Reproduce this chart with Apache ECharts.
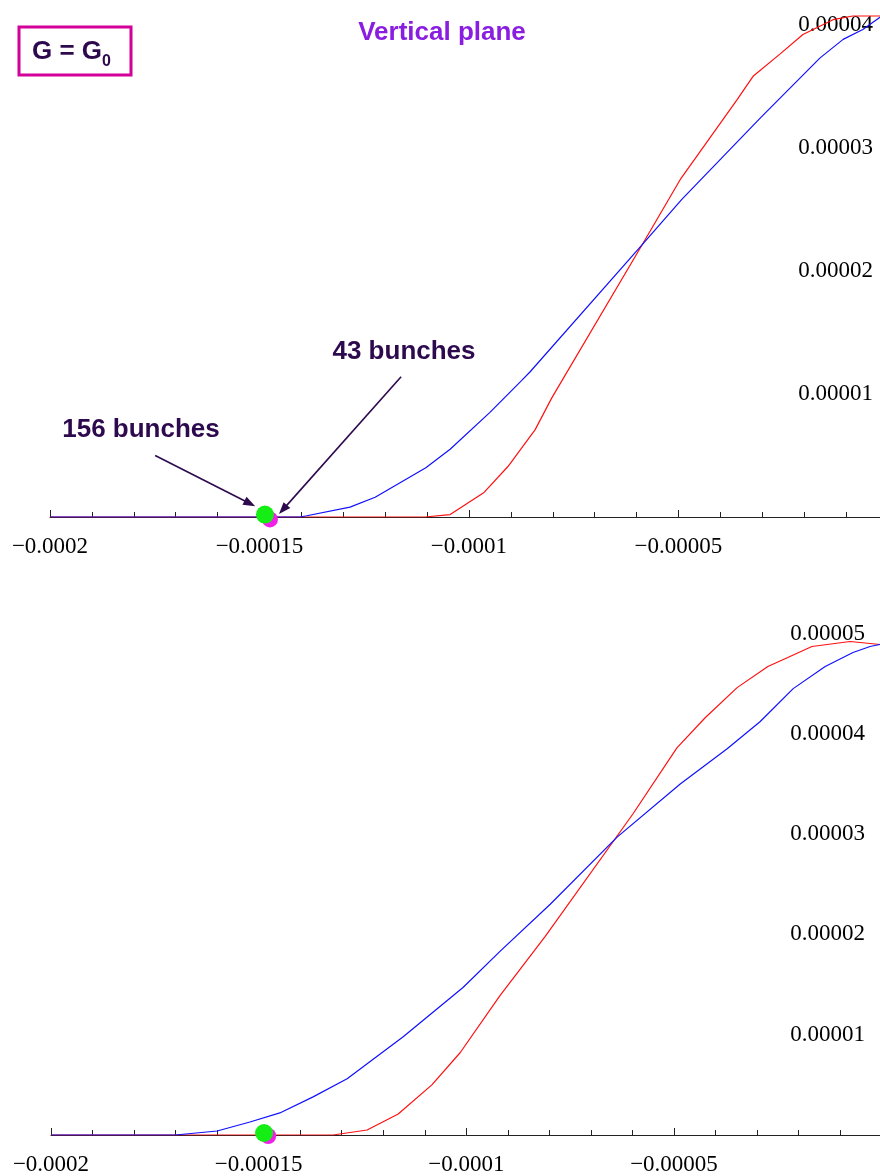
<!DOCTYPE html>
<html style="height: 100%">
<head>
    <meta charset="utf-8">
</head>
<body style="height: 100%; margin: 0; background-color: #fff;">
<div id="container" style="width: 880px; height: 1176px;"></div>
<script type="text/javascript" src="https://cdn.jsdelivr.net/npm/echarts@6/dist/echarts.min.js"></script>
<script type="text/javascript">
// x ticks (shared by both panels)
var xTicks = [-0.0002, -0.00015, -0.0001, -0.00005];

// upper panel: [x, y]
var topRed = [
    [-0.0002, 0], [-0.0001105, 0], [-0.0001045, 0.0000002], [-0.0000964, 0.0000020],
    [-0.0000907, 0.0000041], [-0.0000842, 0.0000071], [-0.0000802, 0.0000097],
    [-0.0000587, 0.0000221], [-0.0000496, 0.0000274], [-0.0000360, 0.0000339],
    [-0.0000322, 0.0000358], [-0.0000258, 0.0000376], [-0.0000203, 0.0000392],
    [-0.0000131, 0.0000404], [-0.0000084, 0.0000407], [-0.0000019, 0.0000407]
];
var topBlue = [
    [-0.0002, 0], [-0.0001403, 0], [-0.0001387, 0.0000001], [-0.0001284, 0.0000008],
    [-0.0001224, 0.0000016], [-0.0001103, 0.0000040], [-0.0001045, 0.0000055],
    [-0.0000950, 0.0000085], [-0.0000874, 0.0000111], [-0.0000854, 0.0000118],
    [-0.0000587, 0.0000221], [-0.0000492, 0.0000258], [-0.0000305, 0.0000324],
    [-0.0000162, 0.0000373], [-0.0000107, 0.0000388], [-0.0000060, 0.0000396],
    [-0.0000019, 0.0000406]
];
var topGreen = [[-0.0001487, 0.0000002]];
var topMagenta = [[-0.0001475, -0.0000002]];

// arrows: [from, to]
var arrow43 = [[-0.0001162, 0.0000114], [-0.0001444, 0.0000006]];
var arrow156 = [[-0.0001749, 0.0000050], [-0.0001523, 0.0000011]];

// lower panel
var botRed = [
    [-0.0002, 0], [-0.0001321, 0], [-0.0001239, 0.0000005], [-0.0001164, 0.0000021],
    [-0.0001083, 0.0000050], [-0.0001015, 0.0000082], [-0.0000919, 0.0000139],
    [-0.0000810, 0.0000198], [-0.0000599, 0.0000320], [-0.0000493, 0.0000386],
    [-0.0000425, 0.0000416], [-0.0000348, 0.0000446], [-0.0000274, 0.0000467],
    [-0.0000226, 0.0000476], [-0.0000168, 0.0000487], [-0.0000076, 0.0000492],
    [-0.0000004, 0.0000489]
];
var botBlue = [
    [-0.0002, 0], [-0.0001701, 0], [-0.0001600, 0.0000004], [-0.0001521, 0.0000013],
    [-0.0001449, 0.0000022], [-0.0001369, 0.0000038], [-0.0001287, 0.0000056],
    [-0.0001152, 0.0000098], [-0.0001008, 0.0000147], [-0.0000919, 0.0000183],
    [-0.0000798, 0.0000230], [-0.0000637, 0.0000297], [-0.0000485, 0.0000350],
    [-0.0000372, 0.0000385], [-0.0000293, 0.0000412], [-0.0000213, 0.0000445],
    [-0.0000136, 0.0000467], [-0.0000069, 0.0000481], [-0.0000028, 0.0000487],
    [-0.0000004, 0.0000489]
];
var botGreen = [[-0.0001487, 0.0000002]];
var botMagenta = [[-0.0001477, -0.0000001]];

var serif = 'Liberation Serif';
var sans = 'Liberation Sans';
var dark = '#2d0a4e';

function xFmt(v) {
    for (var i = 0; i < xTicks.length; i++) {
        if (Math.abs(v - xTicks[i]) < 1e-9) {
            return '\u2212' + Math.abs(xTicks[i]).toFixed(5).replace(/0+$/, '');
        }
    }
    return '';
}
function yFmt(v) {
    var n = v / 0.00001;
    if (v <= 0 || Math.abs(n - Math.round(n)) > 1e-6) return '';
    return v.toFixed(5);
}

// the plot is cut at the right edge, just short of x = 0
function xAxisFor(idx, max) {
    return {
        gridIndex: idx, type: 'value', min: -0.0002, max: max, interval: 0.00005,
        axisLine: { onZero: true, lineStyle: { color: '#222', width: 1 } },
        axisTick: { inside: true, length: 7, lineStyle: { color: '#222' } },
        minorTick: { show: true, splitNumber: 5, length: 5, lineStyle: { color: '#222' } },
        splitLine: { show: false },
        axisLabel: { formatter: xFmt, margin: 18, fontFamily: serif, fontSize: 23, color: '#000', showMaxLabel: false }
    };
}
function yAxisFor(idx, max, margin) {
    return {
        gridIndex: idx, type: 'value', min: 0, max: max, interval: 0.00001, position: 'right',
        axisLine: { show: false }, axisTick: { show: false }, splitLine: { show: false },
        axisLabel: { inside: true, margin: margin, formatter: yFmt, fontFamily: serif, fontSize: 23, color: '#000',
                     showMaxLabel: false, showMinLabel: false, padding: [4, 0, 0, 0] }
    };
}
function lineSeries(idx, data, color) {
    return {
        type: 'line', xAxisIndex: idx, yAxisIndex: idx, data: data, symbol: 'none',
        lineStyle: { color: color, width: 1.2 }, animation: false, z: 3
    };
}
function dotSeries(idx, data, color, size) {
    return {
        type: 'scatter', xAxisIndex: idx, yAxisIndex: idx, data: data, clip: false,
        symbolSize: size, itemStyle: { color: color, opacity: 1 }, animation: false, z: 5
    };
}
function arrowLine(pair) {
    return [
        { coord: pair[0], symbol: 'none' },
        { coord: pair[1], symbol: 'triangle', symbolSize: [9, 12] }
    ];
}

var chart = echarts.init(document.getElementById('container'));
var topSeries = dotSeries(0, topMagenta, '#f020e8', 16);
topSeries.markLine = {
    silent: true, animation: false, symbol: ['none', 'triangle'],
    label: { show: false },
    lineStyle: { color: dark, width: 1.6, type: 'solid' },
    data: [arrowLine(arrow43), arrowLine(arrow156)]
};

chart.setOption({
    animation: false,
    grid: [
        { left: 50, top: 0, width: 830, height: 517 },
        { left: 51, top: 613.4, width: 829, height: 523.6 }
    ],
    xAxis: [xAxisFor(0, -0.0000019), xAxisFor(1, -0.0000004)],
    yAxis: [yAxisFor(0, 0.000042, 7), yAxisFor(1, 0.000052, 15)],
    series: [
        lineSeries(0, topRed, '#ff1010'),
        lineSeries(0, topBlue, '#1010ff'),
        topSeries,
        dotSeries(0, topGreen, '#14ee14', 18),
        lineSeries(1, botRed, '#ff1010'),
        lineSeries(1, botBlue, '#1010ff'),
        dotSeries(1, botMagenta, '#f020e8', 16),
        dotSeries(1, botGreen, '#14ee14', 18)
    ],
    graphic: [
        { type: 'rect', shape: { x: 19, y: 27, width: 112, height: 48 },
          style: { fill: '#fff', stroke: '#d4009a', lineWidth: 3 }, z: 10 },
        { type: 'text', x: 32, y: 52, z: 11,
          style: { text: 'G = G', font: 'bold 26px ' + sans, fill: dark, align: 'left', verticalAlign: 'middle' } },
        { type: 'text', x: 102, y: 62, z: 11,
          style: { text: '0', font: 'bold 16px ' + sans, fill: dark, align: 'left', verticalAlign: 'middle' } },
        { type: 'text', x: 442, y: 33, z: 11,
          style: { text: 'Vertical plane', font: 'bold 26px ' + sans, fill: '#8a1ee0', align: 'center', verticalAlign: 'middle' } },
        { type: 'text', x: 404, y: 352, z: 11,
          style: { text: '43 bunches', font: 'bold 26px ' + sans, fill: dark, align: 'center', verticalAlign: 'middle' } },
        { type: 'text', x: 141, y: 430, z: 11,
          style: { text: '156 bunches', font: 'bold 26px ' + sans, fill: dark, align: 'center', verticalAlign: 'middle' } }
    ]
});
</script>
</body>
</html>
